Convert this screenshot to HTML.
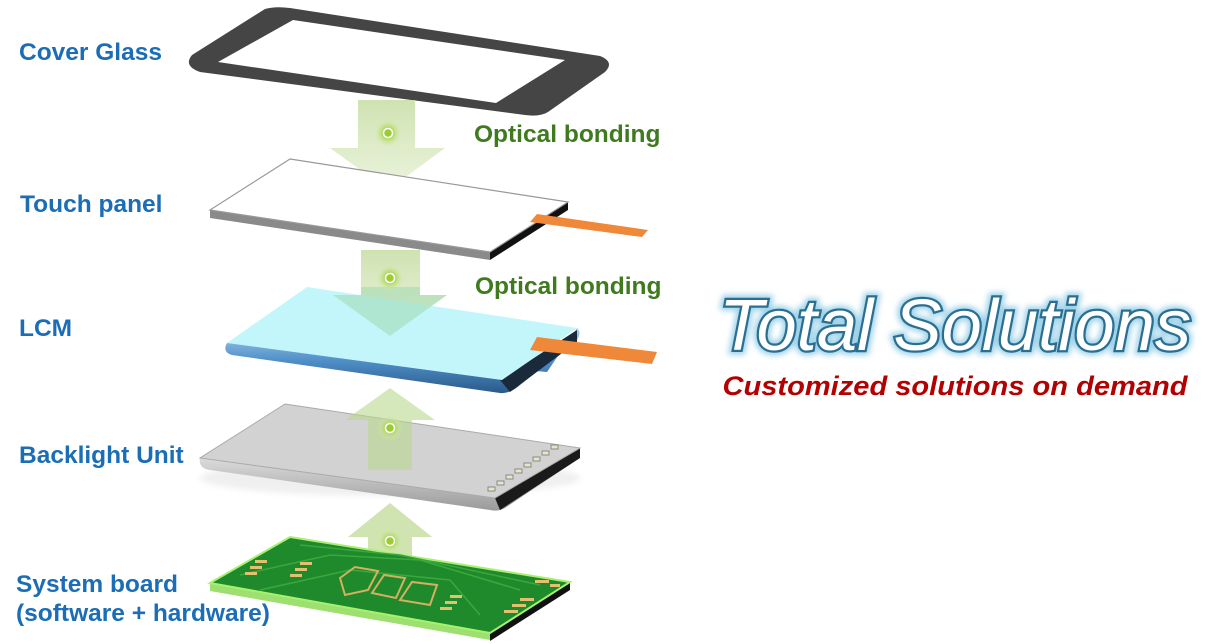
<!DOCTYPE html>
<html><head><meta charset="utf-8"><style>
html,body{margin:0;padding:0;background:#fff;}
svg{display:block;}
.lbl{font-family:"Liberation Sans",sans-serif;font-weight:bold;font-size:24.5px;fill:#1b6db5;}
.ob{font-family:"Liberation Sans",sans-serif;font-weight:bold;font-size:24.5px;fill:#3f7a1f;}
</style></head><body>
<svg width="1207" height="644" viewBox="0 0 1207 644" xmlns="http://www.w3.org/2000/svg">
<defs>
<linearGradient id="ag" x1="0" y1="0" x2="0" y2="1"><stop offset="0" stop-color="#c9dfa8" stop-opacity="0.9"/><stop offset="1" stop-color="#dcebc4" stop-opacity="0.6"/></linearGradient>
<linearGradient id="lcmside" x1="0" y1="0" x2="0" y2="1"><stop offset="0" stop-color="#a8d0f0"/><stop offset="0.5" stop-color="#4f8fc8"/><stop offset="1" stop-color="#2a5a8a"/></linearGradient>
<linearGradient id="blside" x1="0" y1="0" x2="0" y2="1"><stop offset="0" stop-color="#e8e8e8"/><stop offset="1" stop-color="#9a9a9a"/></linearGradient>
<radialGradient id="dot"><stop offset="0" stop-color="#8fc020"/><stop offset="0.5" stop-color="#b8dc70" stop-opacity="0.8"/><stop offset="1" stop-color="#d8ecb8" stop-opacity="0"/></radialGradient>
<filter id="glow"><feGaussianBlur stdDeviation="3"/></filter>
</defs>

<!-- Cover glass -->
<path d="M265,9 Q275,6 290,8 L600,56 Q615,62 605,72 L548,112 Q540,117 525,115 L200,72 Q183,66 192,55 Z M293,20 L565,60 L496,103 L218,62 Z" fill="#454545" fill-rule="evenodd"/>

<!-- Arrow 1 down -->
<path d="M358,100 H415 V148 H445 L388,190 L330,148 H358 Z" fill="url(#ag)"/>
<circle cx="388" cy="133" r="14" fill="url(#dot)"/><circle cx="388" cy="133" r="4.5" fill="#9acd32" stroke="#fff" stroke-width="1.5"/>

<!-- Touch panel -->
<path d="M210,210 L490,252 L490,260 L210,218 Z" fill="#8a8a8a"/>
<path d="M490,252 L568,202 L568,210 L490,260 Z" fill="#111"/>
<path d="M290,159 L568,202 L490,252 L210,210 Z" fill="#fff" stroke="#999" stroke-width="1.2"/>
<path d="M537,214 L648,230 L642,237 L530,222 Z" fill="#f0883a"/>

<!-- Arrow 2 down -->
<path d="M361,250 H420 V295 H447 L390,336 L330,295 H361 Z" fill="url(#ag)"/>

<!-- LCM -->
<path d="M227,343 Q222,352 232,355 L500,393 Q510,394 520,385 L577,340 Q582,332 577,328 L547,372 L227,343 Z" fill="url(#lcmside)"/>
<path d="M500,380 L577,330 L577,342 L510,392 Z" fill="#1a2a3a"/>
<path d="M307,287 L577,328 L502,380 L227,343 Z" fill="#c2f6fb"/>
<path d="M361,287 H420 V295 H447 L390,336 L333,295 H361 Z" fill="#9fd8b0" opacity="0.55"/>
<circle cx="390" cy="278" r="14" fill="url(#dot)"/><circle cx="390" cy="278" r="4.5" fill="#9acd32" stroke="#fff" stroke-width="1.5"/>
<path d="M537,337 L657,352 L652,364 L530,350 Z" fill="#f0883a"/>

<!-- Backlight -->
<ellipse cx="390" cy="478" rx="190" ry="18" fill="#ccc" opacity="0.3" filter="url(#glow)"/>
<path d="M200,458 Q198,468 210,470 L490,510 Q498,512 505,508 L580,458 L580,448 L495,498 Z" fill="url(#blside)"/>
<path d="M495,498 L580,448 L580,458 L500,510 Z" fill="#1a1a1a"/>
<path d="M285,404 L580,448 L495,498 L200,458 Z" fill="#d2d2d2" stroke="#aaa" stroke-width="1"/>
<path d="M390,388 L435,420 H412 V470 H368 V420 H345 Z" fill="#b8d890" opacity="0.6"/>
<circle cx="390" cy="428" r="13" fill="url(#dot)"/><circle cx="390" cy="428" r="4.5" fill="#9acd32" stroke="#fff" stroke-width="1.5"/>
<g fill="#e8e4c8" stroke="#777" stroke-width="0.8">
<rect x="488" y="487" width="7" height="4"/><rect x="497" y="481" width="7" height="4"/><rect x="506" y="475" width="7" height="4"/><rect x="515" y="469" width="7" height="4"/><rect x="524" y="463" width="7" height="4"/><rect x="533" y="457" width="7" height="4"/><rect x="542" y="451" width="7" height="4"/><rect x="551" y="445" width="7" height="4"/></g>

<!-- Arrow 4 up -->
<path d="M390,503 L432,537 H412 V560 H368 V537 H348 Z" fill="#c3dd9e" opacity="0.8"/>

<!-- PCB -->
<path d="M210,583 L490,633 L490,640 L210,591 Z" fill="#9de070"/>
<path d="M490,633 L570,582 L570,590 L490,641 Z" fill="#111"/>
<path d="M290,537 L570,582 L490,633 L210,583 Z" fill="#1f8a2c" stroke="#a8f070" stroke-width="2"/>
<g stroke="#3aa83c" stroke-width="1.5" fill="none">
<path d="M240,575 L330,555 L420,560 L520,590"/><path d="M260,590 L350,570 L450,580 L480,615"/><path d="M300,545 L400,555 L540,585"/>
</g>
<g stroke="#d4b060" stroke-width="2" fill="none">
<path d="M340,578 L355,567 L378,571 L368,590 L345,595 Z"/><path d="M372,593 L384,575 L405,578 L396,598 Z"/><path d="M400,600 L412,582 L437,585 L430,605 Z"/></g>
<g fill="#e2c070">
<rect x="255" y="560" width="12" height="3"/><rect x="250" y="566" width="12" height="3"/><rect x="245" y="572" width="12" height="3"/>
<rect x="300" y="562" width="12" height="3"/><rect x="295" y="568" width="12" height="3"/><rect x="290" y="574" width="12" height="3"/>
<rect x="450" y="595" width="12" height="3"/><rect x="445" y="601" width="12" height="3"/><rect x="440" y="607" width="12" height="3"/>
<rect x="520" y="598" width="14" height="3"/><rect x="512" y="604" width="14" height="3"/><rect x="504" y="610" width="14" height="3"/>
<rect x="535" y="580" width="14" height="3"/><rect x="550" y="584" width="10" height="3"/></g>
<circle cx="390" cy="541" r="13" fill="url(#dot)"/><circle cx="390" cy="541" r="4.5" fill="#9acd32" stroke="#fff" stroke-width="1.5"/>

<!-- Labels -->
<text class="lbl" x="19" y="60">Cover Glass</text>
<text class="lbl" x="20" y="212">Touch panel</text>
<text class="lbl" x="19" y="336">LCM</text>
<text class="lbl" x="19" y="463">Backlight Unit</text>
<text class="lbl" x="16" y="592">System board</text>
<text class="lbl" x="16" y="621">(software + hardware)</text>
<text class="ob" x="474" y="142">Optical bonding</text>
<text class="ob" x="475" y="294">Optical bonding</text>

<!-- Total Solutions -->
<text x="955" y="350" text-anchor="middle" font-family="Liberation Sans,sans-serif" font-style="italic" font-size="72" fill="none" stroke="#9fd3ea" stroke-width="10" filter="url(#glow)" textLength="472" lengthAdjust="spacingAndGlyphs">Total Solutions</text>
<text x="955" y="350" text-anchor="middle" font-family="Liberation Sans,sans-serif" font-style="italic" font-size="72" fill="#fff" stroke="#2b6f90" stroke-width="4.5" paint-order="stroke" textLength="472" lengthAdjust="spacingAndGlyphs">Total Solutions</text>
<text x="955" y="395" text-anchor="middle" font-family="Liberation Sans,sans-serif" font-style="italic" font-weight="bold" font-size="27" fill="#b30000" textLength="465" lengthAdjust="spacingAndGlyphs">Customized solutions on demand</text>
</svg>
</body></html>
